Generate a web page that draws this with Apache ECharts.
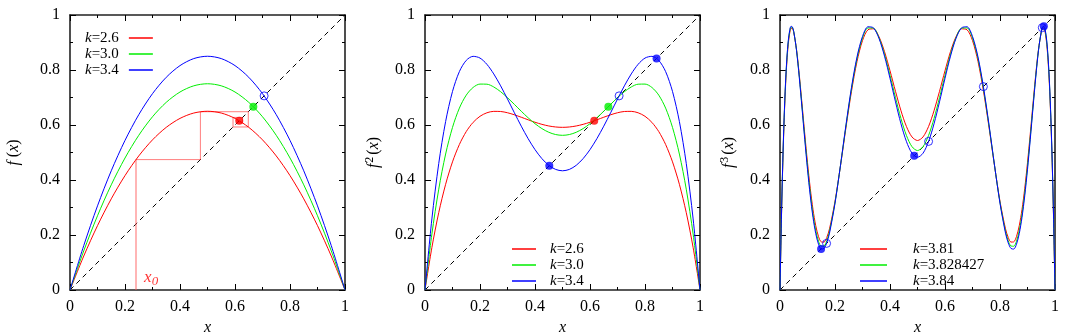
<!DOCTYPE html>
<html>
<head>
<meta charset="utf-8">
<script src="https://cdn.jsdelivr.net/npm/echarts@6/dist/echarts.min.js"></script>
<style>
  html, body { margin: 0; padding: 0; background: #ffffff; }
  #chart { width: 1075px; height: 332px; }
</style>
</head>
<body>
<div id="chart"></div>
<script>
  // panel 1: f(x)
  const xs1 = [0, 0.05, 0.1, 0.15, 0.2, 0.25, 0.3, 0.35, 0.4, 0.45, 0.5, 0.55, 0.6, 0.65, 0.7, 0.75, 0.8, 0.85, 0.9, 0.95, 1];
  const f1k26 = [0, 0.1235, 0.234, 0.3315, 0.416, 0.4875, 0.546, 0.5915, 0.624, 0.6435, 0.65, 0.6435, 0.624, 0.5915, 0.546, 0.4875, 0.416, 0.3315, 0.234, 0.1235, 0];
  const f1k30 = [0, 0.1425, 0.27, 0.3825, 0.48, 0.5625, 0.63, 0.6825, 0.72, 0.7425, 0.75, 0.7425, 0.72, 0.6825, 0.63, 0.5625, 0.48, 0.3825, 0.27, 0.1425, 0];
  const f1k34 = [0, 0.1615, 0.306, 0.4335, 0.544, 0.6375, 0.714, 0.7735, 0.816, 0.8415, 0.85, 0.8415, 0.816, 0.7735, 0.714, 0.6375, 0.544, 0.4335, 0.306, 0.1615, 0];
  // cobweb for k=2.6 starting at x0
  const webStartX = [0.24, 0.24];
  const webStartY = [0, 0.4742];
  const webX = [0.24, 0.4742, 0.4742, 0.6483, 0.6483, 0.5928, 0.5928, 0.6276, 0.6276, 0.6077, 0.6077];
  const webY = [0.4742, 0.4742, 0.6483, 0.6483, 0.5928, 0.5928, 0.6276, 0.6276, 0.6077, 0.6077, 0.6199];

  // panel 2: f^2(x)
  const xs2 = [0, 0.025, 0.05, 0.075, 0.1, 0.125, 0.15, 0.175, 0.2, 0.225, 0.25, 0.275, 0.3, 0.325, 0.35, 0.375, 0.4, 0.425, 0.45, 0.475, 0.5,
    0.525, 0.55, 0.575, 0.6, 0.625, 0.65, 0.675, 0.7, 0.725, 0.75, 0.775, 0.8, 0.825, 0.85, 0.875, 0.9, 0.925, 0.95, 0.975, 1];
  const f2k26 = [0, 0.1543, 0.2815, 0.3844, 0.4660, 0.5291, 0.5762, 0.6096, 0.6317, 0.6444, 0.6496, 0.6491, 0.6445, 0.6371, 0.6282, 0.6189, 0.6100, 0.6024, 0.5965, 0.5928, 0.5915,
    0.5928, 0.5965, 0.6024, 0.6100, 0.6189, 0.6282, 0.6371, 0.6445, 0.6491, 0.6496, 0.6444, 0.6317, 0.6096, 0.5762, 0.5291, 0.4660, 0.3844, 0.2815, 0.1543, 0];
  const f2k30 = [0, 0.2033, 0.3666, 0.4944, 0.5913, 0.6614, 0.7086, 0.7366, 0.7488, 0.7484, 0.7383, 0.7211, 0.6993, 0.6750, 0.6501, 0.6262, 0.6048, 0.5870, 0.5736, 0.5653, 0.5625,
    0.5653, 0.5736, 0.5870, 0.6048, 0.6262, 0.6501, 0.6750, 0.6993, 0.7211, 0.7383, 0.7484, 0.7488, 0.7366, 0.7086, 0.6614, 0.5913, 0.4944, 0.3666, 0.2033, 0];
  const f2k34 = [0, 0.2584, 0.4604, 0.6128, 0.7220, 0.7942, 0.8350, 0.8497, 0.8434, 0.8207, 0.7857, 0.7424, 0.6943, 0.6445, 0.5957, 0.5503, 0.5105, 0.4778, 0.4535, 0.4385, 0.4335,
    0.4385, 0.4535, 0.4778, 0.5105, 0.5503, 0.5957, 0.6445, 0.6943, 0.7424, 0.7857, 0.8207, 0.8434, 0.8497, 0.8350, 0.7942, 0.7220, 0.6128, 0.4604, 0.2584, 0];

  // panel 3: f^3(x)
  const xs3 = [0, 0.005, 0.01, 0.015, 0.02, 0.025, 0.03, 0.035, 0.04, 0.045, 0.05, 0.06, 0.07, 0.08, 0.09, 0.1, 0.11, 0.12, 0.13, 0.14, 0.15, 0.16, 0.17, 0.18,
    0.2, 0.22, 0.24, 0.26, 0.28, 0.3, 0.32, 0.34, 0.36, 0.38, 0.4, 0.42, 0.44, 0.46, 0.48, 0.5,
    0.52, 0.54, 0.56, 0.58, 0.6, 0.62, 0.64, 0.66, 0.68, 0.7, 0.72, 0.74, 0.76, 0.78, 0.8,
    0.82, 0.83, 0.84, 0.85, 0.86, 0.87, 0.88, 0.89, 0.9, 0.91, 0.92, 0.93, 0.94, 0.95, 0.955, 0.96, 0.965, 0.97, 0.975, 0.98, 0.985, 0.99, 0.995, 1];
  const f3k381 = [0, 0.2508, 0.4540, 0.6151, 0.7390, 0.8304, 0.8935, 0.9323, 0.9503, 0.9507, 0.9365, 0.8748, 0.7835, 0.6772, 0.5675, 0.4629, 0.3699, 0.2927, 0.2338, 0.1946, 0.1750, 0.1743, 0.1908, 0.2226,
    0.3222, 0.4522, 0.5918, 0.7227, 0.8309, 0.9069, 0.9464, 0.9496, 0.9207, 0.8669, 0.7974, 0.7223, 0.6516, 0.5940, 0.5565, 0.5436,
    0.5565, 0.5940, 0.6516, 0.7223, 0.7974, 0.8669, 0.9207, 0.9496, 0.9464, 0.9069, 0.8309, 0.7227, 0.5918, 0.4522, 0.3222,
    0.2226, 0.1908, 0.1743, 0.1750, 0.1946, 0.2338, 0.2927, 0.3699, 0.4629, 0.5675, 0.6772, 0.7835, 0.8748, 0.9365, 0.9507, 0.9503, 0.9323, 0.8935, 0.8304, 0.7390, 0.6151, 0.4540, 0.2508, 0];
  const f3k3828 = [0, 0.2542, 0.4599, 0.6224, 0.7470, 0.8384, 0.9011, 0.9389, 0.9556, 0.9545, 0.9386, 0.8731, 0.7779, 0.6680, 0.5552, 0.4482, 0.3534, 0.2752, 0.2162, 0.1775, 0.1591, 0.1600, 0.1787, 0.2129,
    0.3179, 0.4532, 0.5973, 0.7314, 0.8409, 0.9162, 0.9531, 0.9520, 0.9175, 0.8572, 0.7810, 0.6996, 0.6232, 0.5613, 0.5211, 0.5071,
    0.5211, 0.5613, 0.6232, 0.6996, 0.7810, 0.8572, 0.9175, 0.9520, 0.9531, 0.9162, 0.8409, 0.7314, 0.5973, 0.4532, 0.3179,
    0.2129, 0.1787, 0.1600, 0.1591, 0.1775, 0.2162, 0.2752, 0.3534, 0.4482, 0.5552, 0.6680, 0.7779, 0.8731, 0.9386, 0.9545, 0.9556, 0.9389, 0.9011, 0.8384, 0.7470, 0.6224, 0.4599, 0.2542, 0];
  const f3k384 = [0, 0.2564, 0.4635, 0.6270, 0.7520, 0.8434, 0.9058, 0.9430, 0.9589, 0.9567, 0.9397, 0.8718, 0.7742, 0.6621, 0.5472, 0.4387, 0.3428, 0.2641, 0.2050, 0.1666, 0.1489, 0.1510, 0.1710, 0.2068,
    0.3153, 0.4540, 0.6010, 0.7370, 0.8472, 0.9220, 0.9571, 0.9531, 0.9149, 0.8504, 0.7698, 0.6841, 0.6041, 0.5393, 0.4973, 0.4827,
    0.4973, 0.5393, 0.6041, 0.6841, 0.7698, 0.8504, 0.9149, 0.9531, 0.9571, 0.9220, 0.8472, 0.7370, 0.6010, 0.4540, 0.3153,
    0.2068, 0.1710, 0.1510, 0.1489, 0.1666, 0.2050, 0.2641, 0.3428, 0.4387, 0.5472, 0.6621, 0.7742, 0.8718, 0.9397, 0.9567, 0.9589, 0.9430, 0.9058, 0.8434, 0.7520, 0.6270, 0.4635, 0.2564, 0];

  // fixed points / cycles on the diagonal
  const fix26 = [0.6154];
  const fix30 = [0.6667];
  const fix34 = [0.7059];
  const cyc2k34 = [0.4520, 0.8421];
  const cyc3stable = [0.1494, 0.4880, 0.9594];
  const cyc3unstable = [0.1694, 0.5403, 0.9538, 0.7396];

  const names1 = ['k=2.6', 'k=3.0', 'k=3.4'];
  const names3 = ['k=3.81', 'k=3.828427', 'k=3.84'];
  const RED = '#ff0000', GREEN = '#00ee00', BLUE = '#0000ff';
  const font = 'Liberation Serif';

  function pts(xs, ys) { return xs.map((x, i) => [x, ys[i]]); }
  function diag(vals) { return vals.map(v => [v, v]); }

  let myChart = echarts.init(document.getElementById('chart'));

  let grids = [70, 425, 780].map(l => ({left: l, top: 15, width: 275, height: 275, outerBoundsMode: 'none'}));

  function axis(gi, pos, name, nameGap) {
    let main = pos === 'bottom' || pos === 'left';
    return {
      type: 'value', gridIndex: gi, position: pos, min: 0, max: 1, interval: 0.2,
      name: main ? name : '', nameLocation: 'middle', nameGap: nameGap,
      nameTextStyle: {
        color: '#000', fontFamily: font, fontSize: 16,
        rich: {
          i: {fontStyle: 'italic', fontFamily: font, fontSize: 16, color: '#000'},
          s: {fontFamily: font, fontSize: 12, color: '#000', verticalAlign: 'top', padding: [0, 2, 7, 1]}
        }
      },
      axisLine: {show: true, onZero: false, lineStyle: {color: '#222', width: 1.6}},
      axisTick: {show: true, inside: true, length: 6, lineStyle: {color: '#000', width: 1}},
      minorTick: {show: true, splitNumber: 2, length: 3, lineStyle: {color: '#000', width: 1}},
      axisLabel: {show: main, color: '#000', fontFamily: font, fontSize: 16, margin: pos === 'left' ? 10 : 9},
      splitLine: {show: false}
    };
  }

  let xAxes = [], yAxes = [];
  let ynames = ['{i|f} ({i|x})', '{i|f}{s|2}({i|x})', '{i|f}{s|3}({i|x})'];
  for (let g = 0; g < 3; g++) {
    xAxes.push(axis(g, 'bottom', '{i|x}', 20));
    xAxes.push(axis(g, 'top', '', 0));
    yAxes.push(axis(g, 'left', ynames[g], g === 0 ? 48 : 42));
    yAxes.push(axis(g, 'right', '', 0));
  }

  function curve(g, name, xs, ys, color, smooth) {
    return {
      type: 'line', name: name, xAxisIndex: 2 * g, yAxisIndex: 2 * g,
      data: pts(xs, ys), showSymbol: false, symbol: 'none', smooth: smooth,
      lineStyle: {color: color, width: 1}, itemStyle: {color: color}, z: 3, silent: true
    };
  }
  function dashed(g) {
    return {
      type: 'line', xAxisIndex: 2 * g, yAxisIndex: 2 * g, data: [[0, 0], [1, 1]],
      symbol: 'none', lineStyle: {color: '#000', width: 1, type: [5, 4]}, z: 2, silent: true
    };
  }
  function dots(g, vals, color, filled) {
    return {
      type: 'scatter', xAxisIndex: 2 * g, yAxisIndex: 2 * g, data: diag(vals),
      symbol: 'circle', symbolSize: 8,
      itemStyle: filled ? {color: color} : {color: 'rgba(0,0,0,0)', borderColor: color, borderWidth: 1},
      z: 5, silent: true
    };
  }
  function legendFmt(name) { return '{i|k}' + name.slice(1); }
  let legRich = {
    i: {fontStyle: 'italic', fontFamily: font, fontSize: 15, color: '#000', lineHeight: 16}
  };

  let series = [
    dashed(0), dashed(1), dashed(2),
    // panel 1
    curve(0, names1[0], xs1, f1k26, RED, 0.3),
    curve(0, names1[1], xs1, f1k30, GREEN, 0.3),
    curve(0, names1[2], xs1, f1k34, BLUE, 0.3),
    {
      type: 'line', xAxisIndex: 0, yAxisIndex: 0, data: pts(webStartX, webStartY), symbol: 'none',
      lineStyle: {color: 'rgba(255,90,90,0.45)', width: 2}, z: 2, silent: true
    },
    {
      type: 'line', xAxisIndex: 0, yAxisIndex: 0, data: pts(webX, webY), symbol: 'none',
      lineStyle: {color: 'rgba(255,40,40,0.6)', width: 1}, z: 2, silent: true
    },
    {
      type: 'scatter', xAxisIndex: 0, yAxisIndex: 0, data: [[0.295, 0.045]], symbolSize: 0, z: 6, silent: true,
      label: {
        show: true, position: 'inside', formatter: '{x|x}{s|0}',
        rich: {
          x: {fontStyle: 'italic', fontFamily: font, fontSize: 17, color: RED},
          s: {fontStyle: 'italic', fontFamily: font, fontSize: 13, color: RED, verticalAlign: 'bottom', padding: [8, 0, 0, 0]}
        }
      }
    },
    dots(0, fix34, BLUE, false),
    dots(0, fix30, GREEN, true),
    dots(0, fix26, RED, true),
    // panel 2
    curve(1, names1[0], xs2, f2k26, RED, 0.3),
    curve(1, names1[1], xs2, f2k30, GREEN, 0.3),
    curve(1, names1[2], xs2, f2k34, BLUE, 0.3),
    dots(1, fix34, BLUE, false),
    dots(1, fix30, GREEN, true),
    dots(1, fix26, RED, true),
    dots(1, cyc2k34, BLUE, true),
    // panel 3
    curve(2, names3[0], xs3, f3k381, RED, 0.3),
    curve(2, names3[1], xs3, f3k3828, GREEN, 0.3),
    curve(2, names3[2], xs3, f3k384, BLUE, 0.3),
    dots(2, cyc3unstable, BLUE, false),
    dots(2, cyc3stable, BLUE, true)
  ];

  myChart.setOption({
    animation: false,
    backgroundColor: '#ffffff',
    textStyle: {fontFamily: font},
    grid: grids,
    xAxis: xAxes,
    yAxis: yAxes,
    legend: [
      {
        left: 80, top: 25, orient: 'vertical', align: 'right', icon: 'rect',
        itemWidth: 24, itemHeight: 1.5, itemGap: 0, selectedMode: false,
        data: names1, formatter: n => legendFmt(n) + '{p|}',
        textStyle: {fontFamily: font, fontSize: 15, color: '#000', lineHeight: 16, rich: Object.assign({p: {width: 5}}, legRich)}
      },
      {
        left: 507, top: 236, orient: 'vertical', align: 'left', icon: 'rect',
        itemWidth: 24, itemHeight: 1.5, itemGap: 0, selectedMode: false,
        data: names1, formatter: n => '{p|}' + legendFmt(n),
        textStyle: {fontFamily: font, fontSize: 15, color: '#000', lineHeight: 16, rich: Object.assign({p: {width: 9}}, legRich)}
      },
      {
        left: 855, top: 236, orient: 'vertical', align: 'left', icon: 'rect',
        itemWidth: 27, itemHeight: 1.5, itemGap: 0, selectedMode: false,
        data: names3, formatter: n => '{p|}' + legendFmt(n),
        textStyle: {fontFamily: font, fontSize: 15, color: '#000', lineHeight: 16, rich: Object.assign({p: {width: 21}}, legRich)}
      }
    ],
    series: series
  });
</script>
</body>
</html>
